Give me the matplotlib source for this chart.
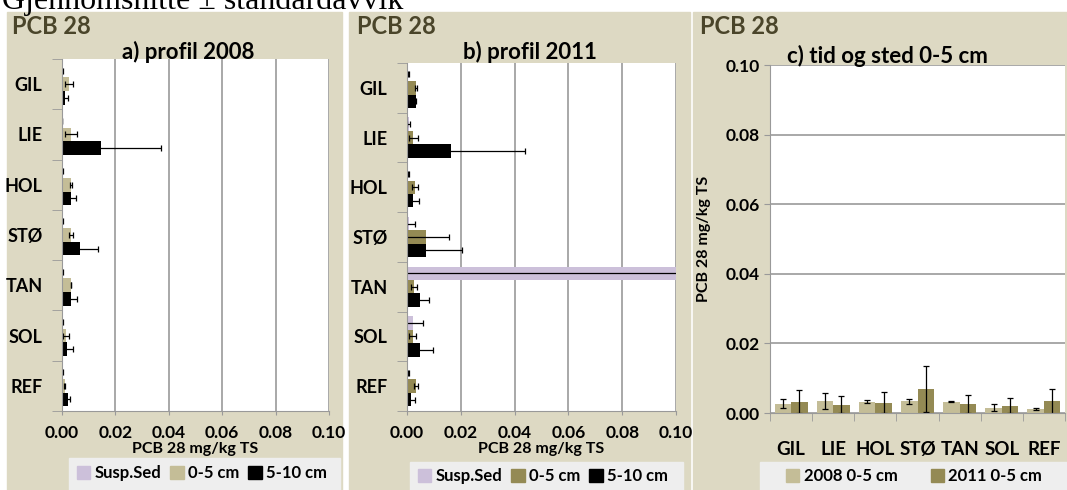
import matplotlib.pyplot as plt
from matplotlib.patches import Rectangle, Patch
import numpy as np

plt.rcParams['font.family'] = ['Lato', 'DejaVu Sans']
plt.rcParams['font.weight'] = 'bold'
plt.rcParams['axes.labelweight'] = 'bold'

W, H = 1067, 490

# stasjoner
stations = ['GIL', 'LIE', 'HOL', 'STØ', 'TAN', 'SOL', 'REF']
xticks_conc = [0.00, 0.02, 0.04, 0.06, 0.08, 0.10]

# a) profil 2008 (mg/kg TS)
susp_2008 = [0.0002, 0.0001, 0.0002, 0.0002, 0.0002, 0.0002, 0.0002]
susp_2008_sd = [0.0002, 0.0000, 0.0002, 0.0002, 0.0002, 0.0002, 0.0002]
top_2008 = [0.0027, 0.0034, 0.0033, 0.0034, 0.0033, 0.0015, 0.0011]
top_2008_sd = [0.0014, 0.0023, 0.0003, 0.0007, 0.0001, 0.0010, 0.0002]
deep_2008 = [0.0010, 0.0145, 0.0033, 0.0067, 0.0035, 0.0019, 0.0021]
deep_2008_sd = [0.0014, 0.0224, 0.0018, 0.0069, 0.0022, 0.0021, 0.0010]

# b) profil 2011
susp_2011 = [0.0005, 0.0006, 0.0005, 0.0009, 0.1200, 0.0022, 0.0005]
susp_2011_sd = [0.0002, 0.0005, 0.0003, 0.0022, 0.1300, 0.0039, 0.0003]
top_2011 = [0.0033, 0.0024, 0.0030, 0.0069, 0.0027, 0.0021, 0.0034]
top_2011_sd_b = [0.0003, 0.0018, 0.0010, 0.0088, 0.0011, 0.0012, 0.0007]
deep_2011 = [0.0032, 0.0162, 0.0022, 0.0072, 0.0050, 0.0050, 0.0016]
deep_2011_sd = [0.0003, 0.0278, 0.0021, 0.0131, 0.0032, 0.0047, 0.0012]

# c) tid og sted 0-5 cm
top_2011_sd_c = [0.0033, 0.0025, 0.0030, 0.0067, 0.0026, 0.0021, 0.0036]

BEIGE = '#DDD9C3'
TAN = '#C4BD97'
OLIVE = '#948A54'
PURPLE = '#CCC0DA'
GRID = '#999999'
DARK = '#4A452A'
LEGBG = '#EEEEEE'


def px(l, t, r, b):
    return [l / W, 1 - b / H, (r - l) / W, (b - t) / H]


def legend_box(x0, x1, top, handles, labels, hx, yc, spacing):
    fig.add_artist(Rectangle((x0 / W, 0), (x1 - x0) / W, (H - top) / H,
                             transform=fig.transFigure, color=LEGBG, zorder=1))
    fig.legend(handles, labels, ncol=len(labels), loc='center left',
               bbox_to_anchor=(hx / W, 1 - yc / H), fontsize=12, frameon=False,
               handlelength=0.8, handleheight=0.8, handletextpad=0.25,
               columnspacing=spacing, borderpad=0, borderaxespad=0)


fig = plt.figure(figsize=(W / 100, H / 100), dpi=100)

fig.text(2 / W, 1 - 9 / H, 'Gjennomsnitte ± standardavvik', family='Liberation Serif',
         fontsize=23, weight='normal', va='baseline', ha='left')

for x0, x1 in [(7, 342), (349, 690), (693, 1067)]:
    fig.add_artist(Rectangle((x0 / W, 0), (x1 - x0) / W, (H - 12) / H,
                             transform=fig.transFigure, color=BEIGE, zorder=-1))

ekw = dict(ecolor='black', elinewidth=0.9, capsize=2, capthick=0.9)
y = np.arange(len(stations))
bh = 0.27


def profile(rect, series, title, title_x, pcb_x):
    ax = fig.add_axes(px(*rect))
    for off, (vals, sds, col) in zip([-bh, 0, bh], series):
        ax.barh(y + off, vals, height=bh, xerr=sds, color=col, error_kw=ekw, zorder=2)
    ax.set_xlim(0, 0.10)
    ax.set_ylim(len(stations) - 0.5, -0.5)
    ax.set_xticks(xticks_conc)
    ax.set_xticklabels(['%.2f' % v for v in xticks_conc], fontsize=12.5)
    ax.set_yticks(y)
    ax.set_yticklabels(stations, fontsize=13)
    ax.set_yticks(np.arange(len(stations) + 1) - 0.5, minor=True)
    ax.tick_params(axis='y', which='major', length=0, pad=14)
    ax.tick_params(axis='y', which='minor', length=7, color=GRID)
    ax.tick_params(axis='x', length=3, color=GRID, pad=7)
    ax.grid(axis='x', color=GRID, linewidth=1.2)
    ax.set_axisbelow(True)
    for s in ['top', 'right']:
        ax.spines[s].set_visible(False)
    for s in ['left', 'bottom']:
        ax.spines[s].set_color(GRID)
    ax.set_xlabel('PCB 28 mg/kg TS', fontsize=11.5, labelpad=1)
    fig.text(title_x / W, 1 - 52 / H, title, fontsize=16, ha='center', va='center')
    fig.text(pcb_x / W, 1 - 27 / H, 'PCB 28', fontsize=17, color=DARK, ha='left', va='center')
    return [Patch(color=c) for _, _, c in series]


h = profile((62, 59, 329, 411),
            [(susp_2008, susp_2008_sd, PURPLE), (top_2008, top_2008_sd, TAN),
             (deep_2008, deep_2008_sd, 'black')],
            'a) profil 2008', 188, 12)
legend_box(69, 340, 458, h, ['Susp.Sed', '0-5 cm', '5-10 cm'], 77, 473, 0.55)

h = profile((407, 63, 676, 411),
            [(susp_2011, susp_2011_sd, PURPLE), (top_2011, top_2011_sd_b, OLIVE),
             (deep_2011, deep_2011_sd, 'black')],
            'b) profil 2011', 530, 357)
legend_box(410, 683, 462, h, ['Susp.Sed', '0-5 cm', '5-10 cm'], 418, 476, 0.55)

# c) tid og sted
axc = fig.add_axes(px(770, 65, 1065, 413))
bw = 0.39
axc.bar(y - bw / 2, top_2008, bw, yerr=top_2008_sd, color=TAN, error_kw=ekw, zorder=2)
axc.bar(y + bw / 2, top_2011, bw, yerr=top_2011_sd_c, color=OLIVE, error_kw=ekw, zorder=2)
axc.set_xlim(-0.5, len(stations) - 0.5)
axc.set_ylim(0, 0.10)
axc.set_yticks(xticks_conc)
axc.set_yticklabels(['%.2f' % v for v in xticks_conc], fontsize=12.5)
axc.set_xticks(y)
axc.set_xticklabels(stations, fontsize=13.5)
axc.set_xticks(np.arange(len(stations) + 1) - 0.5, minor=True)
axc.tick_params(axis='x', which='major', length=0, pad=20)
axc.tick_params(axis='x', which='minor', length=6, color=GRID)
axc.tick_params(axis='y', length=4, color=GRID)
axc.grid(axis='y', color=GRID, linewidth=1.2)
axc.set_axisbelow(True)
for s in ['top', 'right']:
    axc.spines[s].set_visible(False)
for s in ['left', 'bottom']:
    axc.spines[s].set_color(GRID)
axc.set_ylabel('PCB 28 mg/kg TS', fontsize=11.5, labelpad=10)
fig.text(887 / W, 1 - 56 / H, 'c) tid og sted 0-5 cm', fontsize=16, ha='center', va='center')
fig.text(700 / W, 1 - 27 / H, 'PCB 28', fontsize=17, color=DARK, ha='left', va='center')
legend_box(760, 1067, 462, [Patch(color=TAN), Patch(color=OLIVE)],
           ['2008 0-5 cm', '2011 0-5 cm'], 786, 476, 2.0)

fig.savefig('out.png', dpi=100)
